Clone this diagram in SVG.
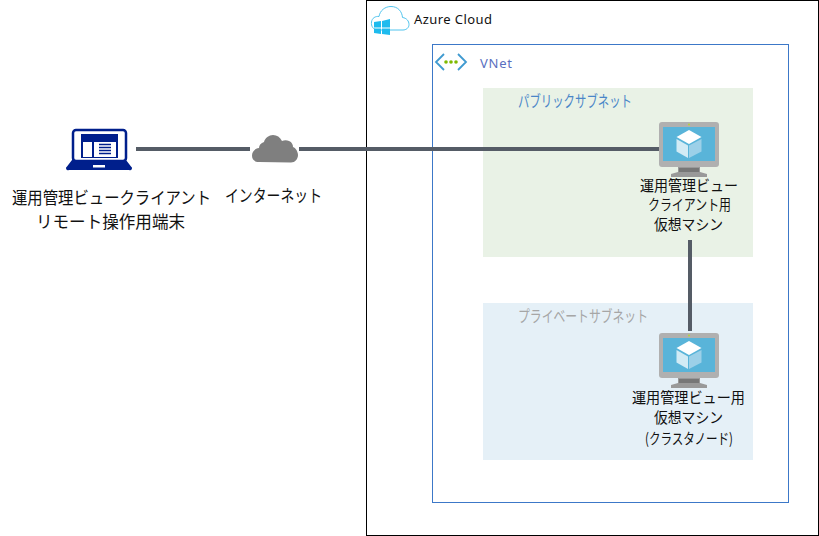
<svg xmlns="http://www.w3.org/2000/svg" width="819" height="536" viewBox="0 0 819 536">
<style>
text{font-family:"Noto Sans CJK JP","Noto Sans",sans-serif;fill:#111}
.l{font-size:17px}
.vm{font-size:15px}
.c{stroke:#555c66;stroke-width:4;fill:none}
</style>
<defs>
<g id="vm">
<path d="M19 45h22v5l7 2v3H12v-3l7-2z" fill="#999"/>
<rect x="20" y="46" width="20" height="4" fill="#777"/>
<rect x="0" y="0" width="60" height="45" rx="3" fill="#b0b0b0"/>
<rect x="4" y="5" width="52" height="34" fill="#59b4d9"/>
<circle cx="30" cy="2.500" r="1" fill="#b8d432"/>
<path d="M30 8l12.500 7-12.500 7-12.500-7z" fill="#fff"/>
<path d="M17.500 17l11.500 6.500V36L17.500 29.500z" fill="#d2ebf5"/>
<path d="M42.500 17l-12.500 6.500V36l12.500-6.500z" fill="#9cd0e8"/>
</g>
</defs>
<rect width="819" height="536" fill="#fff"/>
<rect id="azure" x="366.500" y="0.500" width="452" height="535" fill="#fff" stroke="#000"/>
<rect id="vnet" x="432.500" y="44.500" width="356" height="458" fill="#fff" stroke="#3c78c8"/>
<rect id="public" x="483" y="88" width="270" height="169" fill="#e9f2e6"/>
<rect id="private" x="483" y="303" width="270" height="157" fill="#e5f0f7"/>
<g id="connectors">
<path class="c" d="M136 149H250"/>
<path class="c" d="M299 149H659"/>
<path class="c" d="M690 240V331"/>
</g>
<g id="azure-label">
<path d="M378 30c-5 0-7-4-6.500-8 .5-4 4-6 7.500-5.500 1-6 6-10 12-10 7 0 11 5 11.500 11 4 .5 6.500 3.500 6.500 7 0 3.500-3 5.500-6 5.500z" fill="#fff" stroke="#50c4ee" stroke-width="1"/>
<path d="M374 22l7-1v6.500h-7zM382 21l8-2v8.500h-8zM374 28.500h7v5.500l-7-1zM382 28.500h8v6.500l-8-1z" fill="#1ebbee"/>
<text x="414" y="24" style="font-family:'Noto Sans',sans-serif" font-size="13" textLength="78" lengthAdjust="spacing">Azure Cloud</text>
</g>
<g id="vnet-label">
<path d="M444 54l-8 8 8 8M458 54l8 8-8 8" fill="none" stroke="#3f9ad0" stroke-width="1.800"/>
<circle cx="446" cy="62" r="1.800" fill="#7fba00"/><circle cx="451" cy="62" r="1.800" fill="#7fba00"/><circle cx="456" cy="62" r="1.800" fill="#7fba00"/>
<text x="480" y="68" style="font-family:'Noto Sans',sans-serif;fill:#5a6fc0" font-size="13" textLength="32" lengthAdjust="spacing">VNet</text>
</g>
<g id="public-label"><text x="518" y="107" font-size="15.500" style="fill:#4a86c8" textLength="114" lengthAdjust="spacingAndGlyphs">パブリックサブネット</text></g>
<g id="private-label"><text x="518" y="322" font-size="15.500" style="fill:#a6a6a6" textLength="130" lengthAdjust="spacingAndGlyphs">プライベートサブネット</text></g>
<g id="client">
<rect x="73" y="130" width="53" height="31" rx="3" fill="#fff" stroke="#001f8c" stroke-width="2.500"/>
<path d="M72 160h54l5 6.500a2 2 0 0 1-2 3.500H69a2 2 0 0 1-2-3.500z" fill="#001f8c"/>
<rect x="93" y="165" width="12" height="2.500" fill="#fff"/>
<rect x="81" y="134" width="37" height="24" fill="#001f8c"/>
<rect x="83" y="142" width="9" height="15" fill="#fff"/>
<rect x="94" y="142" width="22" height="15" fill="#fff"/>
<path d="M99 144.500h12M99 147.500h12M99 150.500h12M99 153.500h12" stroke="#001f8c" stroke-width="1.300"/>
<text class="l" x="12" y="204" textLength="199" lengthAdjust="spacingAndGlyphs">運用管理ビュークライアント</text>
<text class="l" x="36" y="228" textLength="149" lengthAdjust="spacingAndGlyphs">リモート操作用端末</text>
</g>
<g id="internet">
<path d="M259 162c-5 0-7-3-7-6.500 0-4 3-7 7-7.500 0-3 2-5 5-6 1-4 5-7 9-7 4 0 7 2 9 6 2-1 5-1 7 0 3 1 4 4 4 6 3 1 5 5 5 8 0 4-3 7.500-7 7.500z" fill="#7f7f7f"/>
<text class="l" x="225" y="202" textLength="97" lengthAdjust="spacingAndGlyphs">インターネット</text>
</g>
<g id="vm1">
<use href="#vm" x="659" y="122"/>
<text class="vm" x="640" y="191" textLength="98" lengthAdjust="spacingAndGlyphs">運用管理ビュー</text>
<text class="vm" x="648" y="210" textLength="83" lengthAdjust="spacingAndGlyphs">クライアント用</text>
<text class="vm" x="654" y="230" textLength="69" lengthAdjust="spacingAndGlyphs">仮想マシン</text>
</g>
<g id="vm2">
<use href="#vm" x="659" y="333"/>
<text class="vm" x="632" y="403" textLength="113" lengthAdjust="spacingAndGlyphs">運用管理ビュー用</text>
<text class="vm" x="654" y="423" textLength="69" lengthAdjust="spacingAndGlyphs">仮想マシン</text>
<text class="vm" x="645" y="444" textLength="88" lengthAdjust="spacingAndGlyphs">(クラスタノード)</text>
</g>
</svg>
